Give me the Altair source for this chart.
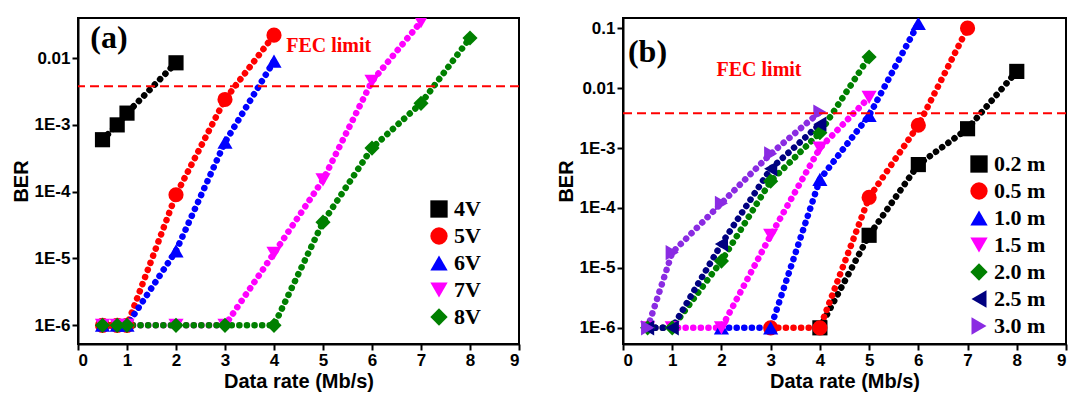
import pandas as pd
import altair as alt

# panel (a): drive voltage
a_names = ["4V", "5V", "6V", "7V", "8V"]
a_x = [
    [0.5, 0.8, 1, 2],
    [0.5, 0.8, 1, 2, 3, 4],
    [0.5, 0.8, 1, 2, 3, 4],
    [0.5, 0.8, 1, 2, 3, 4, 5, 6, 7],
    [0.5, 0.8, 1, 2, 3, 4, 5, 6, 7, 8],
]
a_y = [
    [6e-4, 1e-3, 1.5e-3, 8.5e-3],
    [1e-6, 1e-6, 1e-6, 9e-5, 2.4e-3, 2.2e-2],
    [1e-6, 1e-6, 1e-6, 1.3e-5, 5.5e-4, 9e-3],
    [1e-6, 1e-6, 1e-6, 1e-6, 1e-6, 1.2e-5, 1.5e-4, 4.5e-3, 3.5e-2],
    [1e-6, 1e-6, 1e-6, 1e-6, 1e-6, 1e-6, 3.5e-5, 4.5e-4, 2.1e-3, 2e-2],
]

# panel (b): distance
b_names = ["0.2 m", "0.5 m", "1.0 m", "1.5 m", "2.0 m", "2.5 m", "3.0 m"]
b_x = [
    [4, 5, 6, 7, 8],
    [3, 4, 5, 6, 7],
    [2, 3, 4, 5, 6],
    [0.5, 1, 2, 3, 4, 5],
    [0.5, 1, 2, 3, 4, 5],
    [0.5, 1, 2, 3, 4],
    [0.5, 1, 2, 3, 4],
]
b_y = [
    [1e-6, 3.5e-5, 5.3e-4, 2.1e-3, 1.9e-2],
    [1e-6, 1e-6, 1.5e-4, 2.4e-3, 0.1],
    [1e-6, 1e-6, 3e-4, 3.5e-3, 0.12],
    [1e-6, 1e-6, 1e-6, 3.5e-5, 1.0e-3, 7e-3],
    [1e-6, 1e-6, 1.3e-5, 2.8e-4, 1.8e-3, 3.3e-2],
    [1e-6, 1e-6, 2.5e-5, 4.5e-4, 2.5e-3],
    [1e-6, 1.8e-5, 1.2e-4, 8e-4, 4e-3],
]

a_colors = ["black", "red", "blue", "magenta", "green"]
a_shapes = ["square", "circle", "triangle-up", "triangle-down", "diamond"]
b_colors = ["black", "red", "blue", "magenta", "green", "navy", "#8A2BE2"]
b_shapes = ["square", "circle", "triangle-up", "triangle-down", "diamond",
            "triangle-left", "triangle-right"]

fec = 3.8e-3
x_ticks = list(range(10))

label_expr = ("datum.value >= 0.01 ? format(datum.value, '') : "
              "'1E' + round(log(datum.value) / LN10)")


def to_frame(names, xs, ys):
    rows = []
    for n, xx, yy in zip(names, xs, ys):
        for x, y in zip(xx, yy):
            rows.append({"s": n, "x": x, "y": y})
    return pd.DataFrame(rows)


def panel(df, names, colors, shapes, ydom, yvals, tag, tag_pos, fec_pos, leg_xy, w):
    xs = alt.X("x:Q", scale=alt.Scale(domain=[0, 9], nice=False),
               axis=alt.Axis(values=x_ticks, title="Data rate (Mb/s)", grid=False))
    ys = alt.Y("y:Q", scale=alt.Scale(type="log", domain=ydom, nice=False),
               axis=alt.Axis(values=yvals, labelExpr=label_expr, title="BER", grid=False))
    col = alt.Color("s:N", scale=alt.Scale(domain=names, range=colors),
                    legend=alt.Legend(title=None, orient="none", legendX=leg_xy[0],
                                      legendY=leg_xy[1], labelFont="Liberation Serif",
                                      labelFontSize=22, labelFontWeight="bold",
                                      symbolSize=300, rowPadding=5,
                                      symbolStrokeWidth=0))
    shp = alt.Shape("s:N", scale=alt.Scale(domain=names, range=shapes), legend=None)
    base = alt.Chart(df)
    lines = base.mark_line(strokeDash=[0.1, 7.5], strokeCap="round", strokeWidth=6.5,
                           interpolate="linear", clip=True).encode(
        x=xs, y=ys, color=alt.Color("s:N", scale=alt.Scale(domain=names, range=colors), legend=None),
        detail="s:N")
    pts = base.mark_point(filled=True, size=230, opacity=1, clip=True).encode(
        x="x:Q", y="y:Q", color=col, shape=shp)
    rule = alt.Chart(pd.DataFrame({"y": [fec]})).mark_rule(
        color="red", strokeDash=[9, 5], strokeWidth=2).encode(y="y:Q")
    tag_t = alt.Chart(pd.DataFrame({"x": [tag_pos[0]], "y": [tag_pos[1]], "t": [tag]})).mark_text(
        font="Liberation Serif", fontSize=32, fontWeight="bold", align="left").encode(
        x="x:Q", y="y:Q", text="t:N")
    fec_t = alt.Chart(pd.DataFrame({"x": [fec_pos[0]], "y": [fec_pos[1]], "t": ["FEC limit"]})).mark_text(
        font="Liberation Serif", fontSize=20, fontWeight="bold", color="red", align="left").encode(
        x="x:Q", y="y:Q", text="t:N")
    return alt.layer(lines, pts, rule, tag_t, fec_t).resolve_scale(
        color="independent", shape="independent").properties(width=w, height=326)


pa = panel(to_frame(a_names, a_x, a_y), a_names, a_colors, a_shapes,
           [10 ** -6.28, 10 ** -1.4], [1e-6, 1e-5, 1e-4, 1e-3, 1e-2],
           "(a)", (0.25, 0.02), (4.25, 0.015), (350, 180), 441)
pb = panel(to_frame(b_names, b_x, b_y), b_names, b_colors, b_shapes,
           [10 ** -6.27, 10 ** -0.83], [1e-6, 1e-5, 1e-4, 1e-3, 1e-2, 1e-1],
           "(b)", (0.1, 0.04), (1.9, 0.02), (345, 135), 443)

chart = alt.hconcat(pa, pb, spacing=34).configure_view(
    stroke="black", strokeWidth=2).configure_axis(
    labelFont="Liberation Sans", labelFontSize=17, labelFontWeight="bold", labelColor="black",
    titleFont="Liberation Sans", titleFontSize=20, titleFontWeight="bold", titleColor="black",
    domainColor="black", domainWidth=2, tickColor="black", tickWidth=2, tickSize=6,
    titlePadding=3).properties(padding={"left": 2, "top": 9, "right": 4, "bottom": 0})

chart.save("out.html", embed_options={"renderer": "svg", "actions": False})
